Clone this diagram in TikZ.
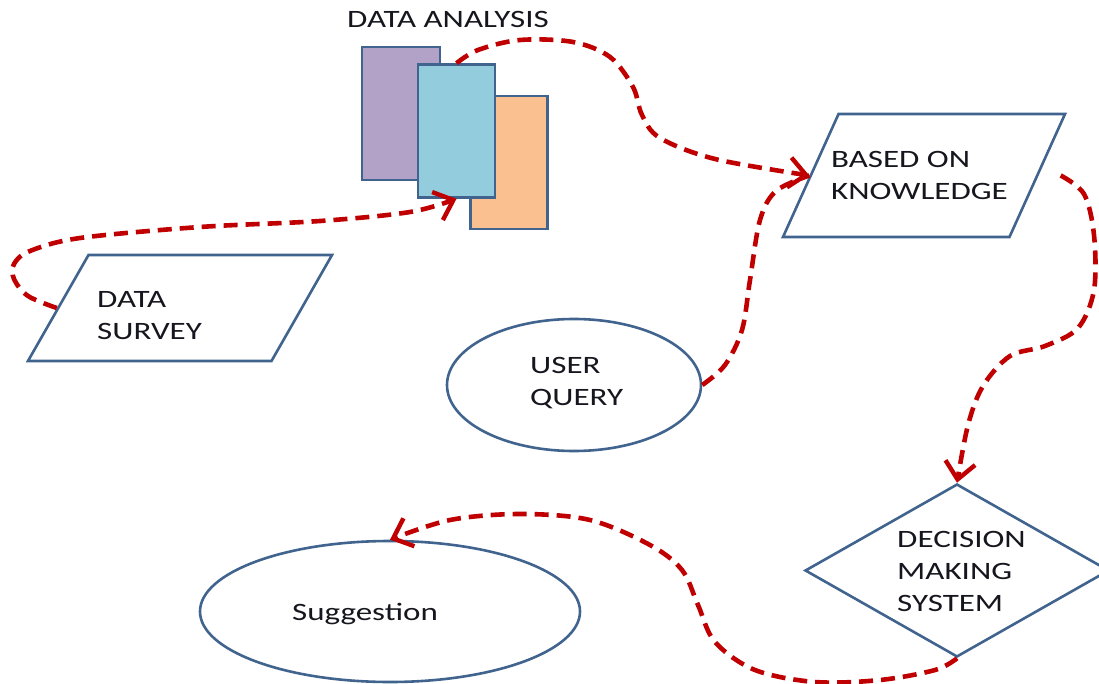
\documentclass[tikz,border=0pt]{standalone}
\usepackage{fontspec}
\setmainfont{Carlito}[FakeStretch=1.32]
\usetikzlibrary{shapes.geometric,arrows.meta}
\definecolor{edgeblue}{HTML}{41648F}
\definecolor{flowred}{HTML}{C00000}
\definecolor{boxpurple}{HTML}{B2A2C7}
\definecolor{boxblue}{HTML}{93CDDD}
\definecolor{boxorange}{HTML}{FAC090}
\definecolor{inkdark}{HTML}{16161E}
\tikzset{
  outline/.style={draw=edgeblue, line width=2.6pt, inner sep=0pt},
  sheet/.style={outline, rectangle, minimum width=#1, minimum height=133pt},
  slantbox/.style={outline, inner sep=1pt, trapezium, trapezium stretches=true, minimum width=#1},
  oval/.style={outline, ellipse},
  decide/.style={outline, diamond},
  lbl/.style={inner sep=0pt, text=inkdark, align=left, anchor=base west,
    font=\fontsize{25}{32}\selectfont},
  flow/.style={draw=flowred, line width=4.6pt, dash pattern=on 14pt off 8pt,
    smooth, tension=0.55},
  head/.style={-{Straight Barb[length=17pt,width=30pt,line width=4.4pt]}},
}
\begin{document}
\begin{tikzpicture}[x=1pt, y=-1pt]
  \useasboundingbox[fill=white] (0,0) rectangle (1099,684);
  \clip (0,0) rectangle (1099,684);

  % stacked sheets of the analysis step
  \node[sheet=78pt, fill=boxpurple] (sheetA) at (401,113.5) {};
  \node[sheet=77pt, fill=boxorange] (sheetC) at (509,162.5) {};
  \node[sheet=77pt, fill=boxblue]   (sheetB) at (456.5,131) {};
  \node[lbl] (analysis) at (347,28) {DATA ANALYSIS};

  % input / output boxes (labels are anchored at the baseline of their last line)
  \node[slantbox=304pt, minimum height=106pt,
        trapezium left angle=71.7, trapezium right angle=108.3] (survey) at (180,308) {};
  \node[lbl] (surveytext) at (97,339) {DATA\\SURVEY};

  \node[slantbox=282pt, minimum height=123pt,
        trapezium left angle=72, trapezium right angle=108] (knowledge) at (924,175.5) {};
  \node[lbl] (knowledgetext) at (831,200) {BASED ON\\KNOWLEDGE};

  \node[oval, minimum width=254pt, minimum height=132pt] (query) at (574,385) {};
  \node[lbl] (querytext) at (530,405) {USER\\QUERY};

  \node[decide, minimum width=304pt, minimum height=173pt] (decision) at (957,570.5) {};
  \node[lbl] (decisiontext) at (897,611) {DECISION\\MAKING\\SYSTEM};

  \node[oval, minimum width=380pt, minimum height=141pt] (suggest) at (390,611.5) {};
  \node[lbl] (suggesttext) at (292,620) {Suggestion};

  % dashed flow connectors
  \draw[flow, head] plot coordinates {(survey.left side) (28,296) (14,279) (14,264)
    (30,251) (80,238) (200,227) (320,221) (410,212) (sheetB.south)};

  \draw[flow, head] plot coordinates {(sheetB.north) (478,50) (520,40) (573,42)
    (610,57) (633,87) (642,115) (660,138) (715,159) (knowledge.left side)};

  \draw[flow] plot coordinates {(query.east) (725,365) (742,330) (750,280)
    (760,220) (776,191) (knowledge.left side)};

  \draw[flow, head] plot coordinates {([xshift=22pt]knowledge.right side) (1084,194)
    (1094,235) (1094,290) (1078,328) (1045,346) (1010,356) (983,386) (968,425)
    (decision.north)};

  \draw[flow, head] plot coordinates {(decision.south) (935,670) (880,680) (815,682)
    (755,670) (715,642) (698,605) (682,570) (650,545) (590,520) (520,514)
    (450,520) (suggest.north)};
\end{tikzpicture}
\end{document}
